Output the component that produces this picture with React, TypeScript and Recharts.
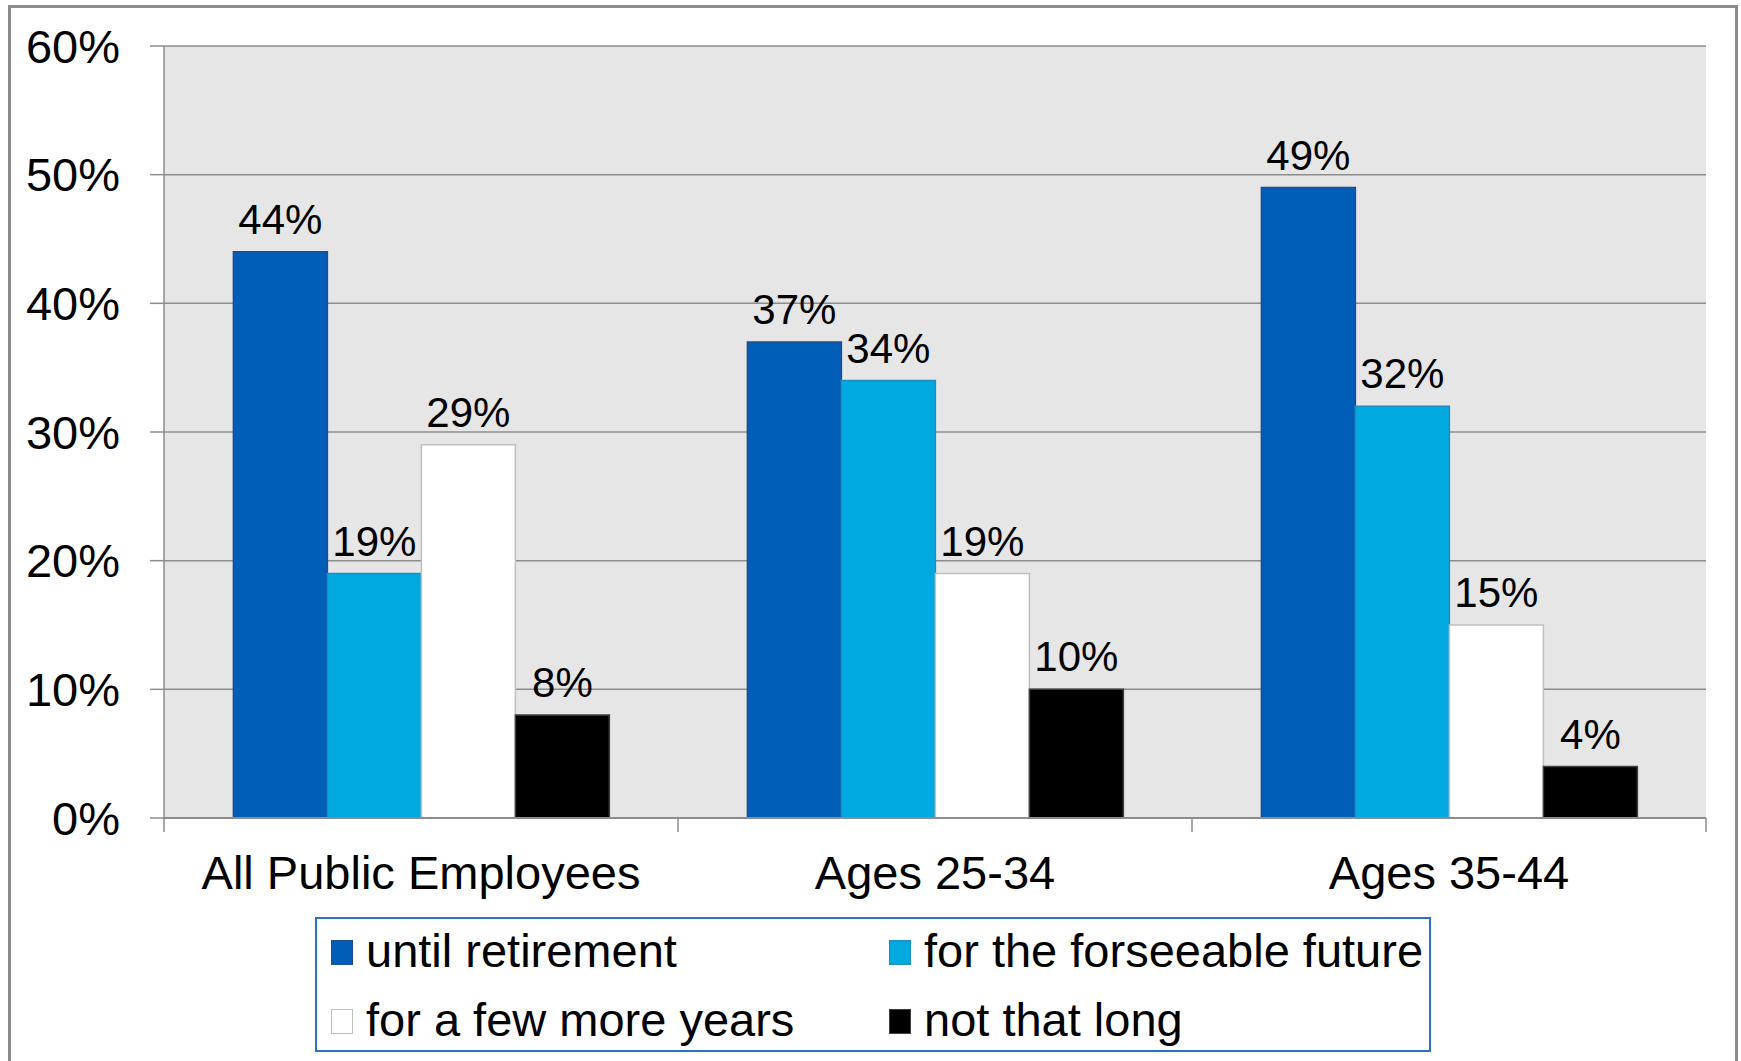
import React from "react";
import { BarChart, Bar, XAxis, YAxis, CartesianGrid, LabelList } from "recharts";

const categories = ["All Public Employees", "Ages 25-34", "Ages 35-44"];
const untilRetirement = [44, 37, 49];
const forseeableFuture = [19, 34, 32];
const fewMoreYears = [29, 19, 15];
const notThatLong = [8, 10, 4];
const yTicks = [0, 10, 20, 30, 40, 50, 60];

const FONT = '"Liberation Sans", Arial, sans-serif';
const GRID = "#8C8C8C";

const CHART_W = 1741;
const CHART_H = 1061;
const MARGIN = { top: 46, right: 35, bottom: 183, left: 0 };
const Y_AXIS_W = 164;
const BAND = (CHART_W - MARGIN.left - MARGIN.right - Y_AXIS_W) / categories.length;

const series = [
  { key: "retire", name: "until retirement", values: untilRetirement, fill: "#005EB8", stroke: "#1F4E8C" },
  { key: "future", name: "for the forseeable future", values: forseeableFuture, fill: "#00A9E0", stroke: "#1C8FBF" },
  { key: "few", name: "for a few more years", values: fewMoreYears, fill: "#FFFFFF", stroke: "#BFBFBF" },
  { key: "short", name: "not that long", values: notThatLong, fill: "#000000", stroke: "#404040" },
];

const data = categories.map((name, i) => {
  const row: Record<string, string | number> = { name };
  series.forEach((s) => (row[s.key] = s.values[i]));
  return row;
});

// legend order in the reference: two columns, two rows
const legendSlots = [
  { left: 14, top: 8 },
  { left: 572, top: 8 },
  { left: 14, top: 77 },
  { left: 572, top: 77 },
];

// label in the middle of the category, tick marks on the category edges
function CategoryTick(props: any) {
  const { x, y, payload, index } = props;
  const left = x - BAND / 2;
  const right = x + BAND / 2;
  return (
    <g>
      <line x1={left} x2={left} y1={y} y2={y + 14} stroke={GRID} strokeWidth={1.5} />
      {index === categories.length - 1 && (
        <line x1={right} x2={right} y1={y} y2={y + 14} stroke={GRID} strokeWidth={1.5} />
      )}
      <text x={x} y={y + 38} dy="0.71em" textAnchor="middle" fill="#000" fontSize={47} fontFamily={FONT}>
        {payload.value}
      </text>
    </g>
  );
}

export default function App() {
  return (
    <div style={{ position: "fixed", left: 0, top: 0, width: CHART_W, height: CHART_H, background: "#fff", fontFamily: FONT }}>
      <div
        style={{
          position: "absolute",
          left: 8,
          top: 5,
          width: 1730,
          height: 1100,
          border: "3px solid #8C8C8C",
          boxSizing: "border-box",
        }}
      />
      <div style={{ position: "absolute", left: 0, top: 0 }}>
        <BarChart
          width={CHART_W}
          height={CHART_H}
          data={data}
          margin={MARGIN}
          barCategoryGap="13.5%"
          barGap={0}
        >
          <CartesianGrid vertical={false} fill="#E6E6E6" stroke={GRID} strokeWidth={1.5} />
          <XAxis
            dataKey="name"
            height={60}
            tickLine={false}
            tickSize={0}
            tickMargin={0}
            axisLine={{ stroke: GRID, strokeWidth: 2 }}
            tick={<CategoryTick />}
            interval={0}
          />
          <YAxis
            width={Y_AXIS_W}
            domain={[0, 60]}
            ticks={yTicks}
            tickFormatter={(v: number) => `${v}%`}
            tickSize={14}
            tickMargin={30}
            axisLine={{ stroke: GRID, strokeWidth: 1.5 }}
            tickLine={{ stroke: GRID, strokeWidth: 1.5 }}
            tick={{ fill: "#000", fontSize: 47, fontFamily: FONT }}
          />
          {series.map((s) => (
            <Bar
              key={s.key}
              dataKey={s.key}
              name={s.name}
              fill={s.fill}
              stroke={s.stroke}
              strokeWidth={1.5}
              isAnimationActive={false}
            >
              <LabelList
                dataKey={s.key}
                position="top"
                offset={18}
                formatter={(v: number) => `${v}%`}
                style={{ fill: "#000", fontSize: 42, fontFamily: FONT }}
              />
            </Bar>
          ))}
        </BarChart>
      </div>
      <div
        style={{
          position: "absolute",
          left: 315,
          top: 917,
          width: 1116,
          height: 135,
          border: "2px solid #2A72C8",
          boxSizing: "border-box",
        }}
      >
        {series.map((s, i) => (
          <div
            key={s.key}
            style={{
              position: "absolute",
              left: legendSlots[i].left,
              top: legendSlots[i].top,
              height: 47,
              lineHeight: "47px",
              fontSize: 47,
              whiteSpace: "nowrap",
              color: "#000",
            }}
          >
            <span
              style={{
                position: "absolute",
                left: 0,
                top: 13,
                width: 22,
                height: 25,
                background: s.fill,
                border: `1.5px solid ${s.stroke}`,
                boxSizing: "border-box",
              }}
            />
            <span style={{ marginLeft: 35 }}>{s.name}</span>
          </div>
        ))}
      </div>
    </div>
  );
}
